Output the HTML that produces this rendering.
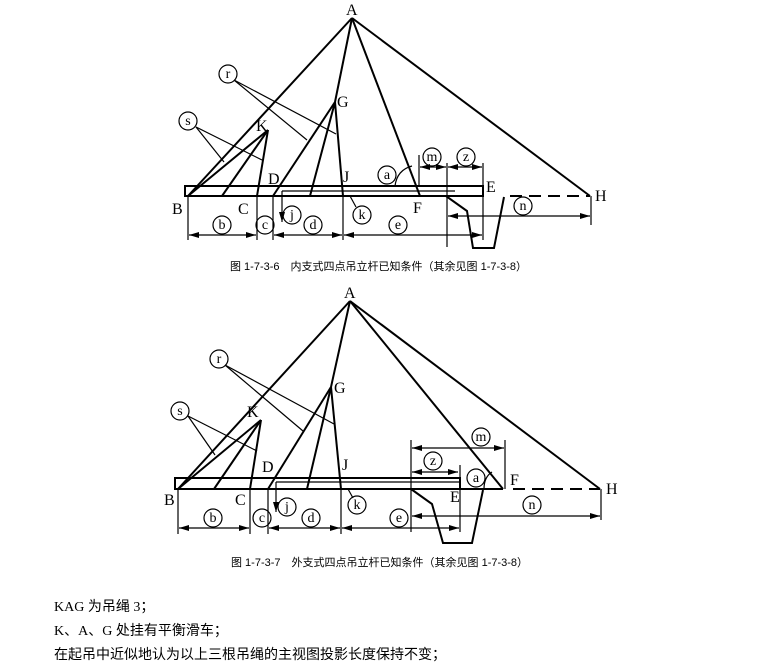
<!DOCTYPE html>
<html><head><meta charset="utf-8"><style>
html,body{margin:0;padding:0;background:#fff;width:777px;height:666px;overflow:hidden}
svg{display:block}
.t{font-family:"Liberation Serif","Noto Serif CJK SC",serif;font-size:16px;fill:#000}
.c{font-family:"Liberation Serif",serif;font-size:14px;fill:#000;text-anchor:middle}
.cap{font-family:"Liberation Sans","Noto Sans CJK SC",sans-serif;font-size:11px;fill:#000}
.txt{font-family:"Liberation Serif","Noto Sans CJK SC",sans-serif;font-size:14px;fill:#000}
</style></head><body>
<svg width="777" height="666" viewBox="0 0 777 666" xmlns="http://www.w3.org/2000/svg">
<defs>
<marker id="ar" markerWidth="10" markerHeight="6" refX="10" refY="3" orient="auto-start-reverse" markerUnits="userSpaceOnUse"><path d="M0,0 L10,3 L0,6 Z" fill="#000"/></marker>
</defs>
<g stroke="#000" fill="none">
<!-- ===== Diagram 1 ===== -->
<g stroke-width="2">
<line x1="352" y1="18" x2="188" y2="196"/>
<line x1="352" y1="18" x2="335" y2="102"/>
<line x1="335" y1="102" x2="343" y2="196"/>
<line x1="335" y1="102" x2="273" y2="196"/>
<line x1="335" y1="102" x2="310" y2="196"/>
<line x1="352" y1="18" x2="420" y2="196"/>
<line x1="352" y1="18" x2="590" y2="196"/>
<line x1="268" y1="130" x2="188" y2="196"/>
<line x1="268" y1="130" x2="222" y2="196"/>
<line x1="268" y1="130" x2="257" y2="196"/>
<rect x="185" y="186" width="298" height="10"/>
<polyline points="430,196 446,196 467,211 473,248 494,248 504,197"/>
<line x1="510" y1="196" x2="590" y2="196" stroke-dasharray="12,7"/>
</g>
<g stroke-width="1.2">
<line x1="234" y1="80" x2="307" y2="140"/>
<line x1="234" y1="80" x2="336" y2="134"/>
<line x1="196" y1="127" x2="224" y2="162"/>
<line x1="196" y1="127" x2="262" y2="160"/>
<line x1="282" y1="191" x2="455" y2="191"/>
<line x1="282" y1="191" x2="282" y2="222" marker-end="url(#ar)"/>
<line x1="356" y1="207" x2="350" y2="196"/>
<path d="M395,186 Q397,170 412,166"/>
<line x1="419" y1="155" x2="419" y2="186"/>
<line x1="447" y1="163" x2="447" y2="247"/>
<line x1="483" y1="163" x2="483" y2="240"/>
<line x1="420" y1="167" x2="446" y2="167" marker-start="url(#ar)" marker-end="url(#ar)"/>
<line x1="448" y1="167" x2="482" y2="167" marker-start="url(#ar)" marker-end="url(#ar)"/>
<line x1="591" y1="196" x2="591" y2="225"/>
<line x1="448" y1="216" x2="590" y2="216" marker-start="url(#ar)" marker-end="url(#ar)"/>
<line x1="188" y1="196" x2="188" y2="240"/>
<line x1="257" y1="196" x2="257" y2="240"/>
<line x1="273" y1="196" x2="273" y2="240"/>
<line x1="343" y1="196" x2="343" y2="240"/>
<line x1="189" y1="235" x2="256" y2="235" marker-start="url(#ar)" marker-end="url(#ar)"/>
<line x1="274" y1="235" x2="342" y2="235" marker-start="url(#ar)" marker-end="url(#ar)"/>
<line x1="344" y1="235" x2="482" y2="235" marker-start="url(#ar)" marker-end="url(#ar)"/>
<circle cx="228" cy="74" r="9"/><circle cx="188" cy="121" r="9"/>
<circle cx="387" cy="175" r="9"/><circle cx="432" cy="157" r="9"/><circle cx="466" cy="157" r="9"/>
<circle cx="523" cy="206" r="9"/><circle cx="292" cy="215" r="9"/><circle cx="362" cy="215" r="9"/>
<circle cx="222" cy="225" r="9"/><circle cx="265" cy="225" r="9"/><circle cx="313" cy="225" r="9"/><circle cx="398" cy="225" r="9"/>
</g>
<!-- ===== Diagram 2 ===== -->
<g stroke-width="2">
<line x1="350" y1="301" x2="178" y2="489"/>
<line x1="350" y1="301" x2="331" y2="387"/>
<line x1="331" y1="387" x2="341" y2="489"/>
<line x1="331" y1="387" x2="268" y2="489"/>
<line x1="331" y1="387" x2="307" y2="489"/>
<line x1="350" y1="301" x2="503" y2="489"/>
<line x1="350" y1="301" x2="600" y2="489"/>
<line x1="261" y1="420" x2="178" y2="489"/>
<line x1="261" y1="420" x2="214" y2="489"/>
<line x1="261" y1="420" x2="250" y2="489"/>
<rect x="175" y="478" width="285" height="11"/>
<line x1="460" y1="489" x2="503" y2="489"/>
<polyline points="411,489 432,504 443,543 472,543 483,490"/>
<line x1="513" y1="489" x2="600" y2="489" stroke-dasharray="12,7"/>
</g>
<g stroke-width="1.2">
<line x1="225" y1="365" x2="303" y2="431"/>
<line x1="225" y1="365" x2="334" y2="424"/>
<line x1="188" y1="416" x2="215" y2="455"/>
<line x1="188" y1="416" x2="257" y2="451"/>
<line x1="276" y1="482" x2="460" y2="482"/>
<line x1="276" y1="482" x2="276" y2="512" marker-end="url(#ar)"/>
<line x1="353" y1="498" x2="348" y2="489"/>
<path d="M484,489 Q484,477 492,472"/>
<line x1="411" y1="440" x2="411" y2="532"/>
<line x1="505" y1="440" x2="505" y2="489"/>
<line x1="460" y1="465" x2="460" y2="532"/>
<line x1="412" y1="448" x2="504" y2="448" marker-start="url(#ar)" marker-end="url(#ar)"/>
<line x1="412" y1="472" x2="458" y2="472" marker-start="url(#ar)" marker-end="url(#ar)"/>
<line x1="601" y1="489" x2="601" y2="520"/>
<line x1="412" y1="516" x2="600" y2="516" marker-start="url(#ar)" marker-end="url(#ar)"/>
<line x1="178" y1="489" x2="178" y2="534"/>
<line x1="250" y1="489" x2="250" y2="534"/>
<line x1="268" y1="489" x2="268" y2="534"/>
<line x1="341" y1="489" x2="341" y2="534"/>
<line x1="179" y1="528" x2="249" y2="528" marker-start="url(#ar)" marker-end="url(#ar)"/>
<line x1="269" y1="528" x2="340" y2="528" marker-start="url(#ar)" marker-end="url(#ar)"/>
<line x1="342" y1="528" x2="459" y2="528" marker-start="url(#ar)" marker-end="url(#ar)"/>
<circle cx="219" cy="359" r="9"/><circle cx="180" cy="411" r="9"/>
<circle cx="476" cy="478" r="9"/><circle cx="481" cy="437" r="9"/><circle cx="433" cy="461" r="9"/>
<circle cx="532" cy="505" r="9"/><circle cx="287" cy="507" r="9"/><circle cx="357" cy="505" r="9"/>
<circle cx="213" cy="518" r="9"/><circle cx="262" cy="518" r="9"/><circle cx="311" cy="518" r="9"/><circle cx="399" cy="518" r="9"/>
</g>
</g>
<!-- labels diagram 1 -->
<g class="t">
<text x="346" y="15">A</text><text x="256" y="131">K</text><text x="337" y="107">G</text>
<text x="268" y="184">D</text><text x="343" y="182">J</text><text x="486" y="192">E</text>
<text x="413" y="213">F</text><text x="595" y="201">H</text><text x="172" y="214">B</text><text x="238" y="214">C</text>
</g>
<g class="c">
<text x="228" y="78">r</text><text x="188" y="125">s</text><text x="387" y="179">a</text>
<text x="432" y="161">m</text><text x="466" y="161">z</text><text x="523" y="210">n</text>
<text x="292" y="219">j</text><text x="362" y="219">k</text>
<text x="222" y="229">b</text><text x="265" y="229">c</text><text x="313" y="229">d</text><text x="398" y="229">e</text>
</g>
<text class="cap" x="230" y="270">图 1-7-3-6　内支式四点吊立杆已知条件（其余见图 1-7-3-8）</text>
<!-- labels diagram 2 -->
<g class="t">
<text x="344" y="298">A</text><text x="247" y="417">K</text><text x="334" y="393">G</text>
<text x="262" y="472">D</text><text x="342" y="470">J</text><text x="450" y="502">E</text>
<text x="510" y="485">F</text><text x="606" y="494">H</text><text x="164" y="505">B</text><text x="235" y="505">C</text>
</g>
<g class="c">
<text x="219" y="363">r</text><text x="180" y="415">s</text><text x="476" y="482">a</text>
<text x="481" y="441">m</text><text x="433" y="465">z</text><text x="532" y="509">n</text>
<text x="287" y="511">j</text><text x="357" y="509">k</text>
<text x="213" y="522">b</text><text x="262" y="522">c</text><text x="311" y="522">d</text><text x="399" y="522">e</text>
</g>
<text class="cap" x="231" y="566">图 1-7-3-7　外支式四点吊立杆已知条件（其余见图 1-7-3-8）</text>
<text class="txt" x="54" y="611">KAG 为吊绳 3；</text>
<text class="txt" x="54" y="635">K、A、G 处挂有平衡滑车；</text>
<text class="txt" x="54" y="659">在起吊中近似地认为以上三根吊绳的主视图投影长度保持不变；</text>
</svg>
</body></html>
